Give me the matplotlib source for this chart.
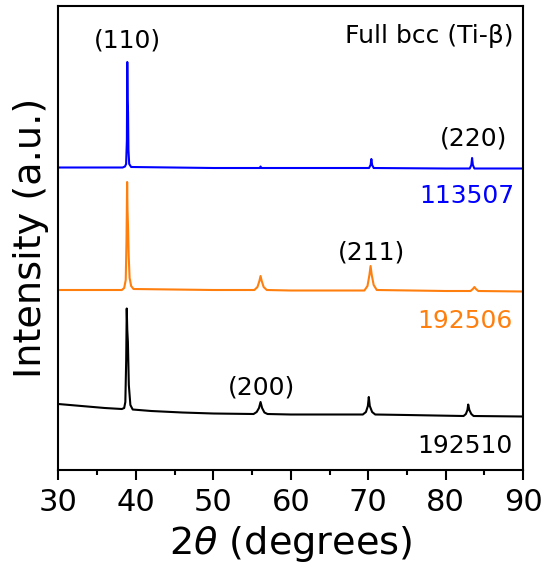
import matplotlib
matplotlib.use("Agg")
import matplotlib.pyplot as plt
from matplotlib.ticker import MultipleLocator

plt.rcParams['font.family'] = ['DejaVu Sans']

# 2theta / intensity points (arbitrary units, curves already offset)
blue_x = [30, 38.3, 38.6, 38.75, 38.85, 38.9, 38.95, 39.0, 39.05, 39.15, 39.4, 50, 56.0, 56.1, 56.2, 60,
          70.1, 70.3, 70.4, 70.5, 70.7, 80, 83.1, 83.3, 83.4, 83.5, 83.7, 90]
blue_y = [302.5, 302.5, 303.5, 306, 330, 408, 370, 357, 320, 306, 303, 302, 302, 303.5, 302, 302,
          302, 305, 311, 305, 302, 301.5, 301.5, 305, 312, 305, 301.5, 301.5]

orange_x = [30, 38.2, 38.5, 38.7, 38.8, 38.88, 38.93, 39.0, 39.08, 39.2, 39.4, 39.7, 50,
            55.3, 55.7, 55.95, 56.1, 56.25, 56.5, 56.9, 60,
            69.5, 69.9, 70.15, 70.3, 70.45, 70.7, 71.1, 80,
            83.2, 83.5, 83.7, 83.9, 84.2, 90]
orange_y = [180, 180, 182, 190, 230, 288, 260, 242, 215, 192, 184, 181, 180,
            180, 183, 189, 194, 189, 183, 180, 179.5,
            179.5, 184, 195, 204, 195, 185, 180, 179,
            179, 181, 183, 181, 179, 178.5]

black_x = [30, 33, 36, 38.2, 38.5, 38.65, 38.76, 38.83, 38.9, 38.98, 39.1, 39.3, 39.6, 42, 46, 50,
           55.2, 55.6, 55.9, 56.1, 56.3, 56.6, 57.0, 60, 65,
           69.3, 69.7, 69.95, 70.07, 70.2, 70.5, 70.9, 75,
           82.3, 82.6, 82.8, 82.9, 83.05, 83.3, 83.6, 90]
black_y = [66, 64, 62, 61, 62, 68, 110, 161.5, 140, 128, 85, 65, 60.5, 59, 57.5, 56.5,
           56, 58, 62, 68, 62, 57.5, 56, 55.5, 55.5,
           55.5, 58, 64, 73, 64, 58, 55.5, 55,
           54, 56, 60, 65.5, 60, 56, 54, 53.5]

series_labels = ["113507", "192506", "192510"]
series_colors = ["#0000ff", "#ff7f0e", "#000000"]
peak_labels = ["(110)", "(220)", "(211)", "(200)"]

fig = plt.figure(figsize=(5.44, 5.66), dpi=100)
ax = fig.add_axes([0.1072, 0.1696, 0.8546, 0.8198])

ax.plot(blue_x, blue_y, color=series_colors[0], lw=1.5)
ax.plot(orange_x, orange_y, color=series_colors[1], lw=1.5)
ax.plot(black_x, black_y, color=series_colors[2], lw=1.5)

ax.set_xlim(30, 90)
ax.set_ylim(0, 464)
ax.xaxis.set_major_locator(MultipleLocator(10))
ax.xaxis.set_minor_locator(MultipleLocator(5))
ax.tick_params(axis='x', which='major', direction='out', length=7.2, width=1.5, labelsize=22, pad=6)
ax.tick_params(axis='x', which='minor', direction='out', length=3.6, width=1.5)
ax.set_yticks([])
for s in ax.spines.values():
    s.set_linewidth(1.5)

ax.set_xlabel(r'2$\theta$ (degrees)', fontsize=27.5, labelpad=5)
ax.set_ylabel('Intensity (a.u.)', fontsize=27.5, labelpad=7)

fs = 18
ax.text(38.94, 430, peak_labels[0], fontsize=fs, ha='center', va='center')
ax.text(88.8, 434, 'Full bcc (Ti-\u03b2)', fontsize=fs, ha='right', va='center')
ax.text(83.65, 332, peak_labels[1], fontsize=fs, ha='center', va='center')
ax.text(70.42, 218, peak_labels[2], fontsize=fs, ha='center', va='center')
ax.text(56.16, 83, peak_labels[3], fontsize=fs, ha='center', va='center')
ax.text(88.8, 274, series_labels[0], fontsize=fs, ha='right', va='center', color=series_colors[0])
ax.text(88.6, 149, series_labels[1], fontsize=fs, ha='right', va='center', color=series_colors[1])
ax.text(88.6, 24, series_labels[2], fontsize=fs, ha='right', va='center', color=series_colors[2])

fig.savefig('out.png', dpi=100)
